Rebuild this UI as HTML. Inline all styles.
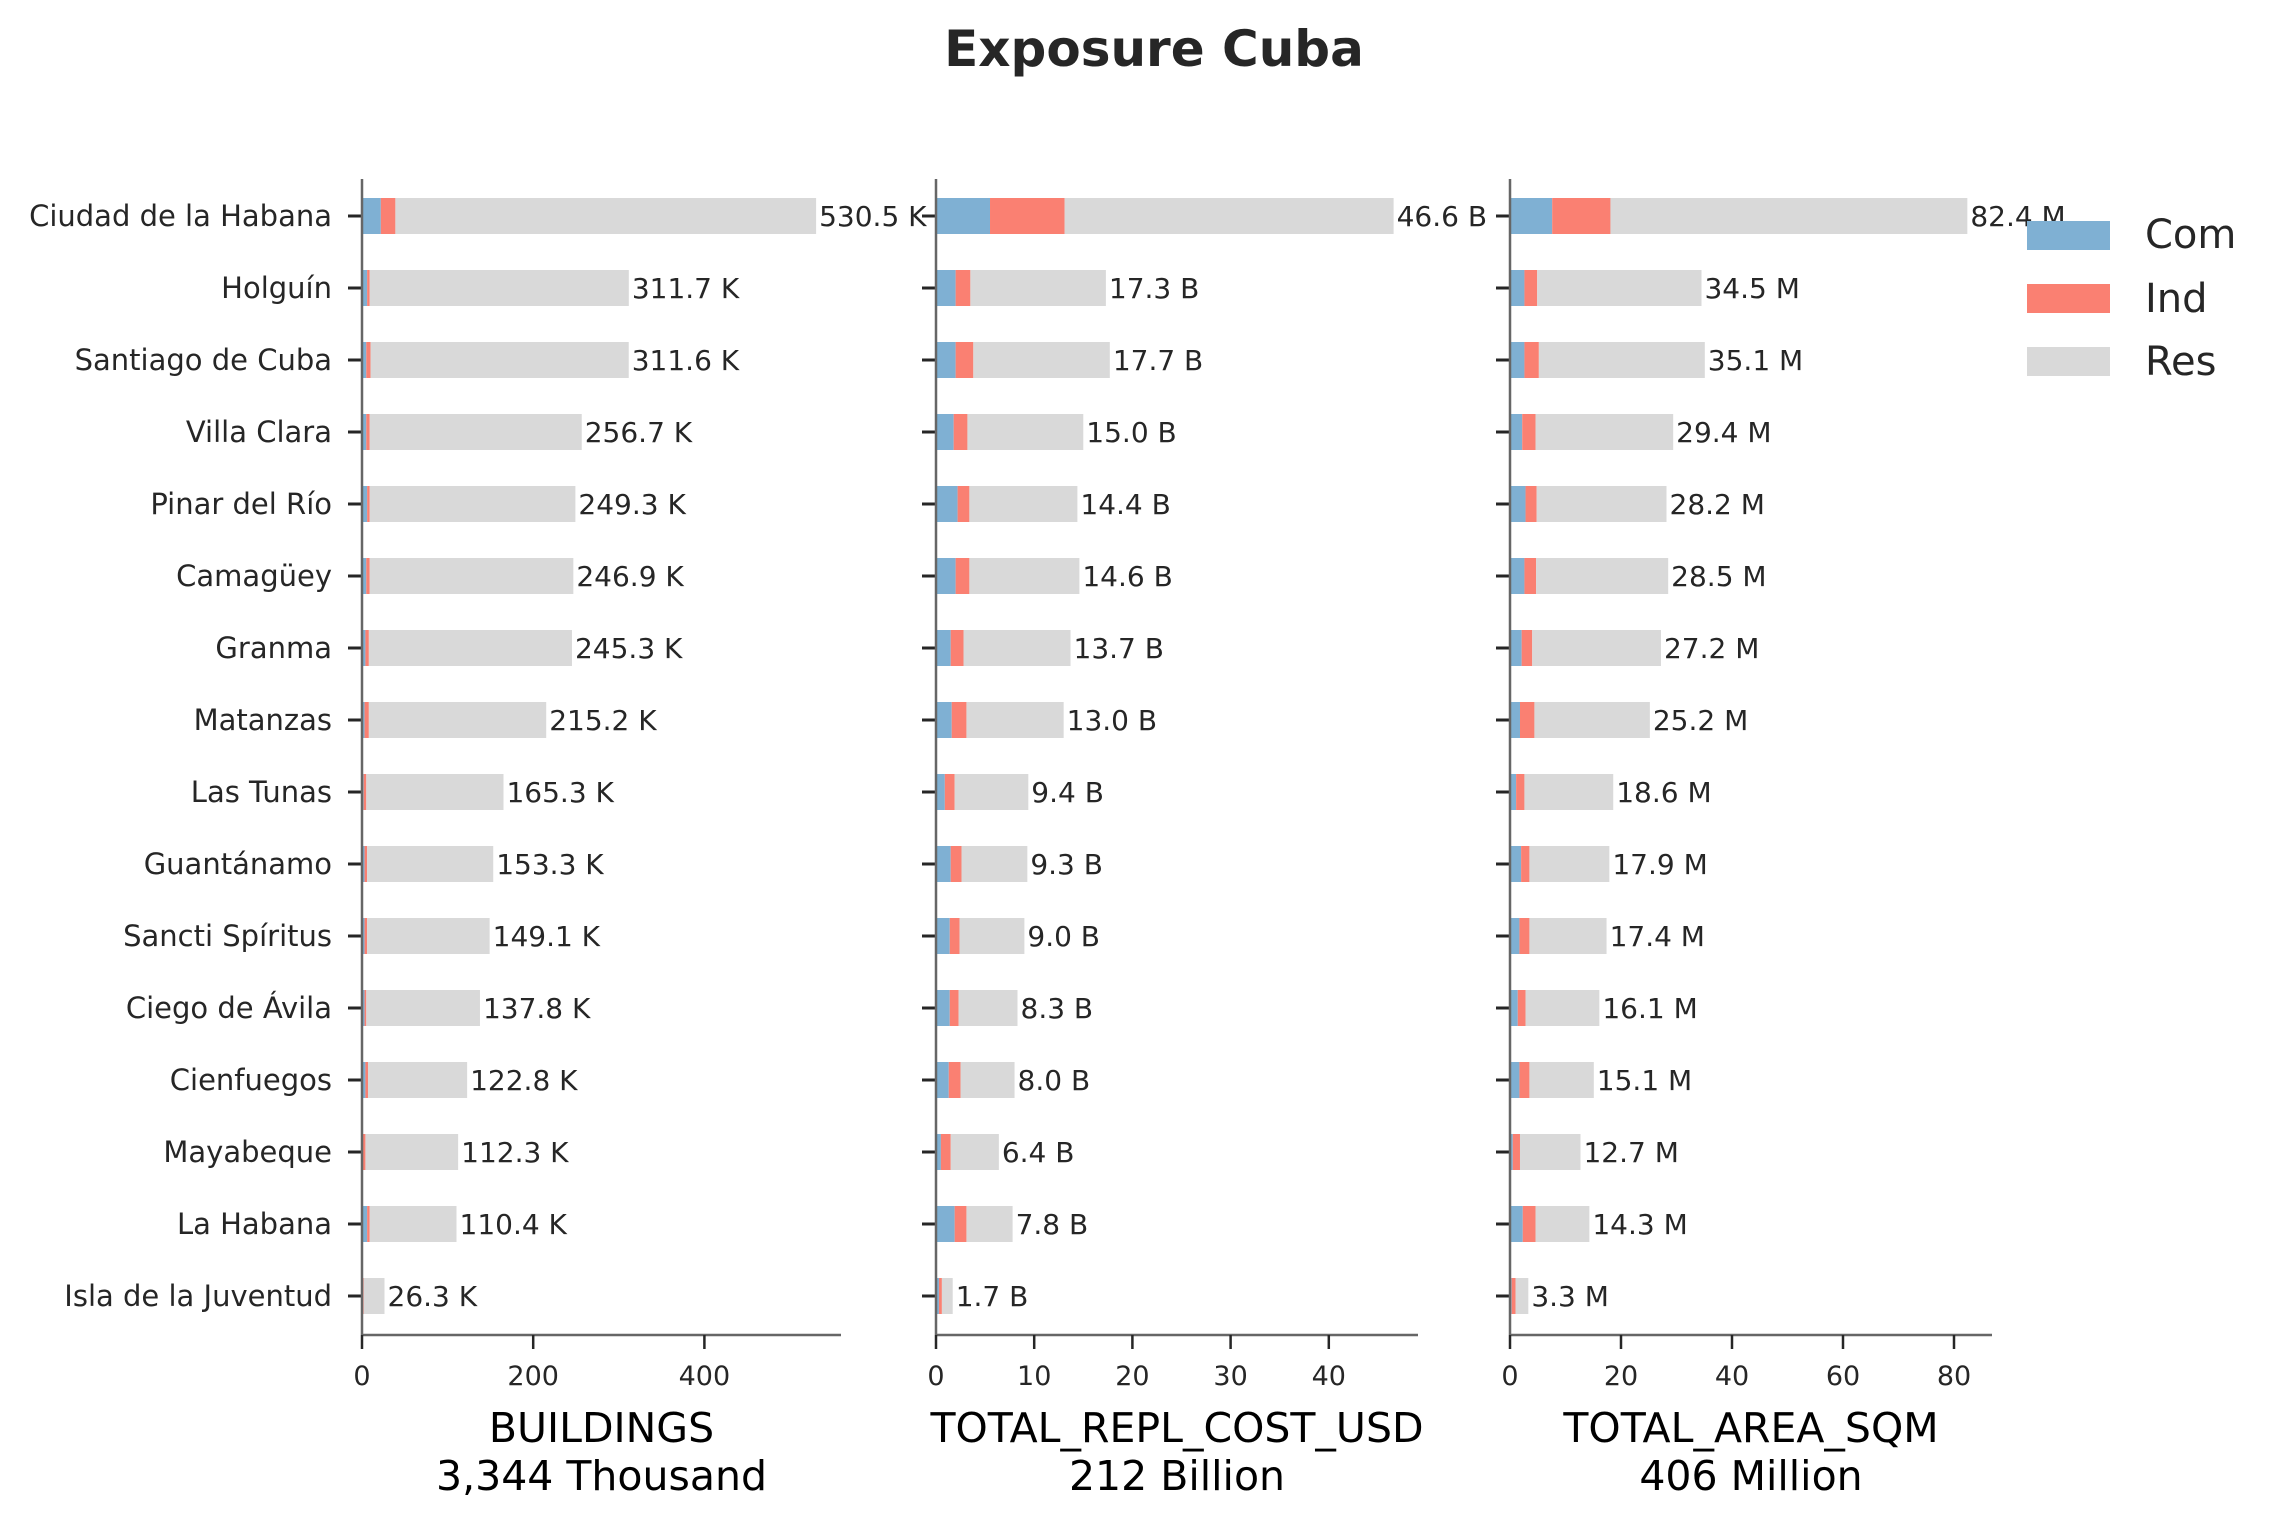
<!DOCTYPE html>
<html><head><meta charset="utf-8"><style>
html,body{margin:0;padding:0;background:#fff;}
svg{display:block;font-family:"DejaVu Sans","Liberation Sans",sans-serif;}
</style></head><body>
<svg id="chart" width="2284" height="1529" viewBox="0 0 2284 1529" xmlns="http://www.w3.org/2000/svg">
<text x="1154" y="66" text-anchor="middle" font-size="50" font-weight="bold" fill="#262626">Exposure Cuba</text>
<g id="legend">
<rect x="2027" y="221" width="83" height="29" fill="#7fb0d3"/>
<text x="2145" y="248" font-size="40" fill="#262626">Com</text>
<rect x="2027" y="284" width="83" height="29" fill="#fa8072"/>
<text x="2145" y="312" font-size="40" fill="#262626">Ind</text>
<rect x="2027" y="347" width="83" height="29" fill="#d9d9d9"/>
<text x="2145" y="375" font-size="40" fill="#262626">Res</text>
</g>
</svg>
<script>
const categories = ["Ciudad de la Habana","Holguín","Santiago de Cuba","Villa Clara","Pinar del Río","Camagüey","Granma","Matanzas","Las Tunas","Guantánamo","Sancti Spíritus","Ciego de Ávila","Cienfuegos","Mayabeque","La Habana","Isla de la Juventud"];
const bldTotal = [530.5,311.7,311.6,256.7,249.3,246.9,245.3,215.2,165.3,153.3,149.1,137.8,122.8,112.3,110.4,26.3];
const bldCom = [22,6,5,5,6,5,4,3,2,3,3,3,4,1,6,1];
const bldInd = [17,3,5,4,3,4,4,5,3,3,3,2,3,3,3,1];
const costTotal = [46.6,17.3,17.7,15.0,14.4,14.6,13.7,13.0,9.4,9.3,9.0,8.3,8.0,6.4,7.8,1.7];
const costCom = [5.5,2.0,2.0,1.8,2.2,2.0,1.5,1.6,0.9,1.5,1.4,1.4,1.3,0.5,1.9,0.3];
const costInd = [7.6,1.5,1.8,1.4,1.2,1.4,1.3,1.5,1.0,1.1,1.0,0.9,1.2,1.0,1.2,0.3];
const areaTotal = [82.4,34.5,35.1,29.4,28.2,28.5,27.2,25.2,18.6,17.9,17.4,16.1,15.1,12.7,14.3,3.3];
const areaCom = [7.6,2.6,2.6,2.2,2.8,2.6,2.1,1.8,1.1,2.0,1.7,1.4,1.7,0.5,2.3,0.3];
const areaInd = [10.5,2.3,2.6,2.4,2.0,2.1,1.9,2.6,1.5,1.5,1.8,1.4,1.8,1.3,2.3,0.7];
const bldTicks = [0,200,400];
const costTicks = [0,10,20,30,40];
const areaTicks = [0,20,40,60,80];
const unitSuffix = [" K"," B"," M"];
const axisTitles = [["BUILDINGS","3,344 Thousand"],["TOTAL_REPL_COST_USD","212 Billion"],["TOTAL_AREA_SQM","406 Million"]];

const NS="http://www.w3.org/2000/svg";
const svg=document.getElementById('chart');
function mk(tag,attrs,parent){const e=document.createElementNS(NS,tag);for(const k in attrs)e.setAttribute(k,attrs[k]);(parent||svg).appendChild(e);return e;}
const yTop=179,yBot=1335,rowH=72,y0=216,barH=36;
function yPos(i){return y0+i*rowH;}
const panels=[
 {x0:362,x1:841,ppu:0.856,tot:bldTotal,com:bldCom,ind:bldInd,ticks:bldTicks,key:'buildings'},
 {x0:936,x1:1418,ppu:9.82,tot:costTotal,com:costCom,ind:costInd,ticks:costTicks,key:'cost'},
 {x0:1510,x1:1992,ppu:5.55,tot:areaTotal,com:areaCom,ind:areaInd,ticks:areaTicks,key:'area'}
];
panels.forEach((p,pi)=>{
 const g=mk('g',{});
 
 
 const xs=v=>p.x0+v*p.ppu;
 categories.forEach((c,i)=>{
  const y=yPos(i)-barH/2;
  const com=p.com[i],ind=p.ind[i],res=p.tot[i]-com-ind;
  const r1=mk('rect',{x:xs(0),y:y,width:com*p.ppu,height:barH,fill:'#7fb0d3'},g);
  
  
  const r2=mk('rect',{x:xs(com),y:y,width:ind*p.ppu,height:barH,fill:'#fa8072'},g);
  
  
  const r3=mk('rect',{x:xs(com+ind),y:y,width:Math.max(0,res)*p.ppu,height:barH,fill:'#d9d9d9'},g);
  
  
  const t=mk('text',{x:xs(p.tot[i])+3,y:yPos(i)+10,'font-size':28,fill:'#262626'},g);
  t.textContent=p.tot[i].toFixed(1)+unitSuffix[pi];
  
  
  const tk=mk('line',{x1:p.x0-14,x2:p.x0,y1:yPos(i),y2:yPos(i),stroke:'#262626','stroke-width':3},g);
  
  
  if(pi===0){
   const cl=mk('text',{x:332,y:yPos(i)+10,'font-size':29,fill:'#262626','text-anchor':'end'},g);
   cl.textContent=c;
   
   
  }
 });
 const ya=mk('line',{x1:p.x0,x2:p.x0,y1:yTop,y2:yBot,stroke:'#666','stroke-width':2.5},g);
 
 
 const xa=mk('line',{x1:p.x0,x2:p.x1,y1:yBot,y2:yBot,stroke:'#666','stroke-width':2.5},g);
 
 
 p.ticks.forEach(v=>{
  const l=mk('line',{x1:xs(v),x2:xs(v),y1:yBot,y2:yBot+14,stroke:'#262626','stroke-width':2.5},g);
  
  
  const tl=mk('text',{x:xs(v),y:yBot+50,'font-size':27,fill:'#262626','text-anchor':'middle'},g);
  tl.textContent=String(v);
  
  
 });
 const cx=(p.x0+p.x1)/2;
 const a1=mk('text',{x:cx,y:1442,'font-size':41,fill:'#000','text-anchor':'middle'},g);
 a1.textContent=axisTitles[pi][0];
 
 
 const a2=mk('text',{x:cx,y:1490,'font-size':41,fill:'#000','text-anchor':'middle'},g);
 a2.textContent=axisTitles[pi][1];
 
 
});
svg.appendChild(document.getElementById('legend'));
</script>
</body></html>
